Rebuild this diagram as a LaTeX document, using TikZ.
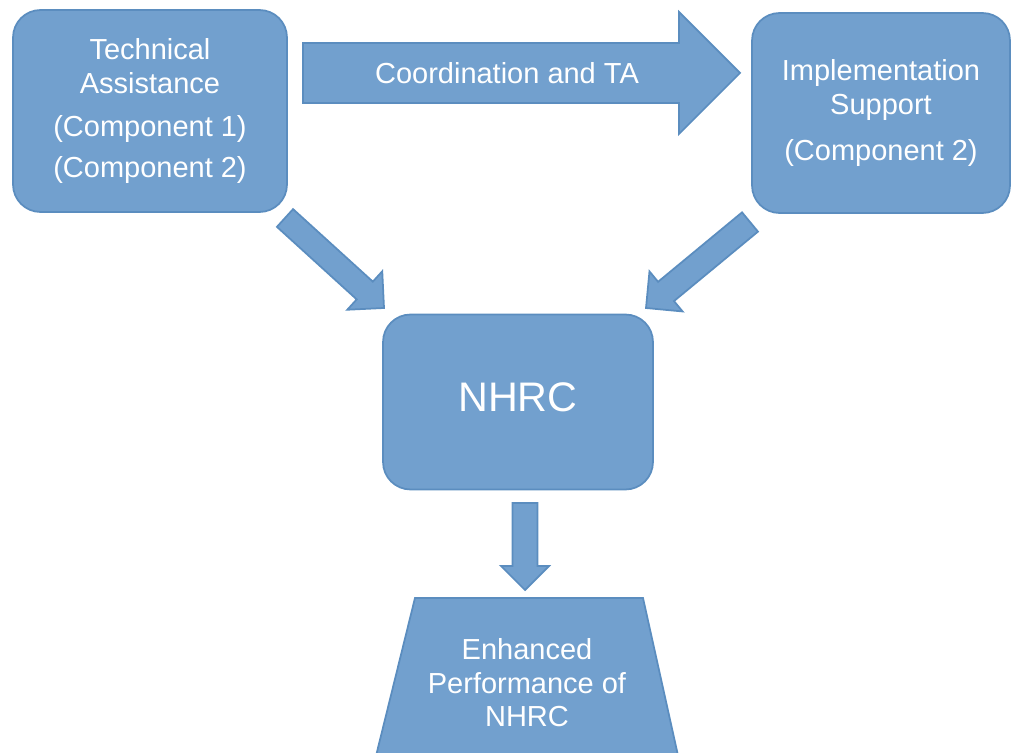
\documentclass[tikz,border=0pt]{standalone}
\usepackage{fontspec}
\setmainfont{Liberation Sans}
\usepackage{xcolor}
\definecolor{boxfill}{HTML}{72A0CE}
\definecolor{boxline}{HTML}{5B8DBF}
\usepackage{tikz}
\usetikzlibrary{calc}
\usetikzlibrary{positioning}

% block arrow: tail, tip, half shaft width, head size
\newcommand{\blockarrow}[4]{%
  \coordinate (hb) at ($(#2)!#4!(#1)$);
  \filldraw[blk] ($(#1)!#3!90:(#2)$) -- ($(hb)!#3!90:(#2)$) -- ($(hb)!#4!90:(#2)$) -- (#2)
    -- ($(hb)!#4!-90:(#2)$) -- ($(hb)!#3!-90:(#2)$) -- ($(#1)!#3!-90:(#2)$) -- cycle;}

\begin{document}
\begin{tikzpicture}[x=0.02cm,y=-0.02cm,line width=1pt,
    blk/.style={fill=boxfill,draw=boxline},
    lbl/.style={text=white,align=center,font=\fontsize{16.5}{19}\selectfont},
    rbox/.style={blk,lbl,rounded corners=0.55cm}]
  \useasboundingbox (0,0) rectangle (1011,753);

  \node[rbox,minimum width=5.48cm,minimum height=4.04cm](ta) at (150,111)
    {Technical\\Assistance\\[6pt](Component 1)\\[4pt](Component 2)};
  \node[rbox,minimum width=5.16cm,minimum height=4cm](is) at (881,113)
    {Implementation\\Support\\[7pt](Component 2)};
  \node[rbox,minimum width=5.4cm,minimum height=3.5cm,text depth=0.2cm,
    font=\fontsize{23.5}{28}\selectfont](nhrc) at (518,402) {NHRC};

  % arrows
  \coordinate (coord-s) at (303,73);
  \coordinate (coord-e) at (740,73);
  \blockarrow{coord-s}{coord-e}{0.6cm}{1.22cm}
  \node[lbl](coord) at (507,73) {Coordination and TA};

  \coordinate (ta-s) at (285,218);
  \coordinate (ta-e) at (384,308);
  \blockarrow{ta-s}{ta-e}{0.24cm}{0.52cm}

  \coordinate (is-s) at (750,222);
  \coordinate (is-e) at (646,308);
  \blockarrow{is-s}{is-e}{0.25cm}{0.52cm}

  \coordinate (nhrc-s) at (525,503);
  \coordinate (nhrc-e) at (525,590);
  \blockarrow{nhrc-s}{nhrc-e}{0.25cm}{0.48cm}

  % outcome
  \filldraw[blk] (415,598) -- (643,598) -- (679,760) -- (375,760) -- cycle;
  \node[lbl](perf) at (527,683) {Enhanced\\Performance of\\NHRC};
\end{tikzpicture}
\end{document}
